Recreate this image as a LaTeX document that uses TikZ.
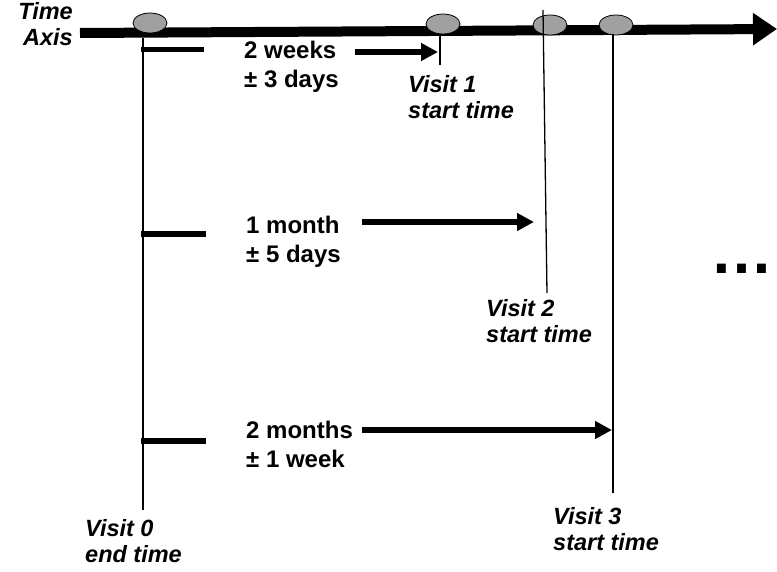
\documentclass[tikz,border=0pt]{standalone}
\usepackage{fontspec}
\setmainfont{Liberation Sans}
\usetikzlibrary{arrows.meta,shapes.geometric}
\definecolor{visitgray}{RGB}{160,160,160}
\begin{document}
\begin{tikzpicture}[x=1pt,y=-1pt,
  visit/.style={ellipse,draw=black,line width=0.8pt,fill=visitgray,minimum width=34pt,minimum height=20pt,inner sep=0pt},
  vline/.style={line width=1.3pt},
  tickmark/.style={line width=5.5pt},
  span/.style={line width=5.5pt,-{Triangle[length=17pt,width=17pt]}},
  interval/.style={font=\fontsize{24}{29}\selectfont\bfseries,align=left,anchor=base west,inner sep=0pt},
  vlabel/.style={font=\fontsize{23.5}{26}\selectfont\bfseries\itshape,align=left,anchor=base west,inner sep=0pt}]
\useasboundingbox (0,0) rectangle (777,571);
% time axis
\coordinate (axL) at (80,33);
\coordinate (axR) at (777,29);
\draw[line width=10pt,-{Triangle[length=24pt,width=31pt]}] (axL) -- (axR);
\node[font=\fontsize{23.5}{26}\selectfont\bfseries\itshape,align=right,anchor=base east,inner sep=0pt] (tl) at (73,45) {Time\\Axis};
% visit markers
\node[visit] (e0) at (150,23) {};
\node[visit] (e1) at (443,24) {};
\node[visit] (e2) at (550,25) {};
\node[visit] (e3) at (616,25) {};
% vertical lines
\coordinate (v0t) at (143,38);  \coordinate (v0b) at (143,510);
\coordinate (v1t) at (440,34);  \coordinate (v1b) at (440,65);
\coordinate (v2t) at (543,10);  \coordinate (v2b) at (547,293);
\coordinate (v3t) at (613,34);  \coordinate (v3b) at (613,493);
\draw[vline] (v0t) -- (v0b);
\draw[vline] (v1t) -- (v1b);
\draw[vline] (v2t) -- (v2b);
\draw[vline] (v3t) -- (v3b);
% ticks on visit 0 line
\coordinate (t1) at (141,49.5); \coordinate (t1e) at (204,49.5);
\coordinate (t2) at (141,234);  \coordinate (t2e) at (206,234);
\coordinate (t3) at (141,441);  \coordinate (t3e) at (206,441);
\draw[tickmark] (t1) -- (t1e);
\draw[tickmark] (t2) -- (t2e);
\draw[tickmark] (t3) -- (t3e);
% interval labels (anchor = baseline of last line)
\node[interval] (i1) at (244,87) {2 weeks\\± 3 days};
\node[interval] (i2) at (246,262) {1 month\\± 5 days};
\node[interval] (i3) at (246,467) {2 months\\± 1 week};
% interval arrows
\coordinate (a1s) at (355,52);  \coordinate (a1e) at (438,52);
\coordinate (a2s) at (362,222); \coordinate (a2e) at (534,222);
\coordinate (a3s) at (362,430); \coordinate (a3e) at (612,430);
\draw[span] (a1s) -- (a1e);
\draw[span] (a2s) -- (a2e);
\draw[span] (a3s) -- (a3e);
% visit labels (anchor = baseline of last line)
\node[vlabel] (l0) at (85,562) {Visit 0\\end time};
\node[vlabel] (l1) at (408,118) {Visit 1\\start time};
\node[vlabel] (l2) at (486,342) {Visit 2\\start time};
\node[vlabel] (l3) at (553,550) {Visit 3\\start time};
% continuation
\node[font=\fontsize{63}{63}\selectfont\bfseries,anchor=base,inner sep=0pt] (dots) at (742,273) {…};
\end{tikzpicture}
\end{document}
